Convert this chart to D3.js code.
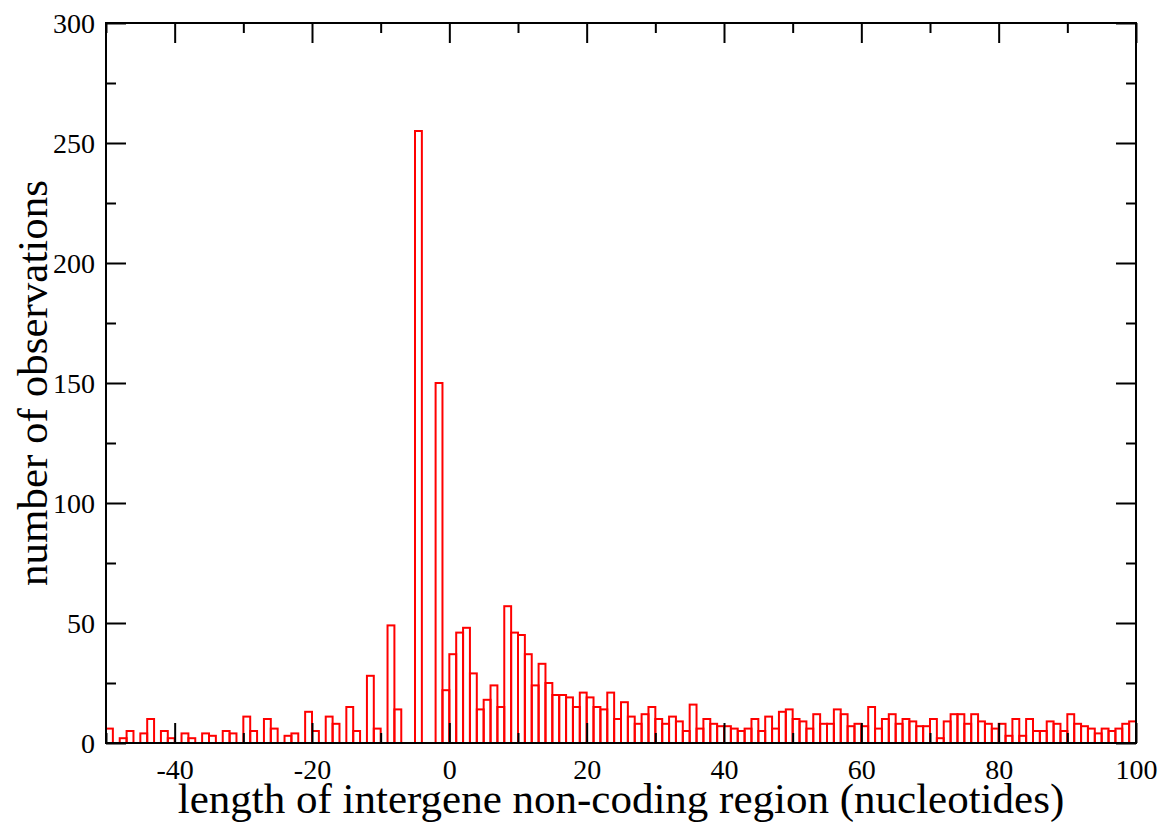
<!DOCTYPE html>
<html>
<head>
<meta charset="utf-8">
<script src="https://cdn.jsdelivr.net/npm/d3@7"></script>
<style>
  html, body { margin: 0; padding: 0; background: #fff; }
  svg { display: block; }
  text { font-family: "Liberation Serif", "Times New Roman", serif; fill: #000; }
</style>
</head>
<body>
<svg id="chart" width="1170" height="823"></svg>
<script>
// ---- data ----
const binStart = -50;          // left edge of first bin (nucleotides)
const binWidth = 1;            // bin width (nucleotides)
const counts = [
  6, 0, 2, 5, 0, 4, 10, 0, 5, 2,        // -50 .. -41
  0, 4, 2, 0, 4, 3, 0, 5, 4, 0,         // -40 .. -31
  11, 5, 0, 10, 6, 0, 3, 4, 0, 13,      // -30 .. -21
  5, 0, 11, 8, 0, 15, 5, 0, 28, 6,      // -20 .. -11
  0, 49, 14, 0, 0, 255, 0, 0, 150, 22,  // -10 .. -1
  37, 46, 48, 29, 14, 18, 24, 15, 57, 46, // 0 .. 9
  45, 37, 24, 33, 25, 20, 20, 19, 15, 21, // 10 .. 19
  19, 15, 14, 21, 10, 17, 11, 8, 12, 15,  // 20 .. 29
  10, 8, 11, 9, 5, 16, 6, 10, 8, 7,       // 30 .. 39
  7, 6, 5, 6, 10, 5, 11, 6, 13, 14,       // 40 .. 49
  10, 9, 6, 12, 8, 8, 14, 12, 7, 8,       // 50 .. 59
  7, 15, 6, 10, 12, 8, 10, 9, 7, 7,       // 60 .. 69
  10, 2, 9, 12, 12, 8, 12, 9, 8, 6,       // 70 .. 79
  8, 3, 10, 3, 10, 5, 5, 9, 8, 5,         // 80 .. 89
  12, 8, 7, 6, 4, 6, 5, 6, 8, 9           // 90 .. 99
];
const xDomain = [-50, 100];
const yDomain = [0, 300];
const xMajorTicks = [-40, -20, 0, 20, 40, 60, 80, 100];
const xMinorTicks = [-50, -30, -10, 10, 30, 50, 70, 90];
const yMajorTicks = [0, 50, 100, 150, 200, 250, 300];
const yMinorTicks = [25, 75, 125, 175, 225, 275];
const xLabelText = "length of intergene non-coding region (nucleotides)";
const yLabelText = "number of observations";

// ---- layout ----
const L = 106, R = 1136, T = 23, B = 743;
const svg = d3.select("#chart");
const x = d3.scaleLinear().domain(xDomain).range([L, R]);
const y = d3.scaleLinear().domain(yDomain).range([B, T]);

const bins = counts.map((c, i) => ({ x0: binStart + i * binWidth, x1: binStart + (i + 1) * binWidth, n: c }));

// bars (outlined)
svg.append("g")
  .selectAll("rect")
  .data(bins)
  .join("rect")
  .attr("x", d => x(d.x0))
  .attr("y", d => y(d.n))
  .attr("width", d => x(d.x1) - x(d.x0))
  .attr("height", d => y(0) - y(d.n))
  .attr("fill", "none")
  .attr("stroke", "#ff0000")
  .attr("stroke-width", 2);

// ticks (inward, all four sides)
const majorLen = 20, minorLen = 10;
function tickAxis(axisGen, transform, tickVals, len) {
  const g = svg.append("g").attr("transform", transform)
    .call(axisGen.tickValues(tickVals).tickSize(-len).tickFormat(""));
  g.select(".domain").remove();
  g.selectAll(".tick line").attr("stroke", "#000").attr("stroke-width", 2);
  return g;
}
tickAxis(d3.axisBottom(x), `translate(0,${B})`, xMajorTicks, majorLen);
tickAxis(d3.axisBottom(x), `translate(0,${B})`, xMinorTicks, minorLen);
tickAxis(d3.axisTop(x), `translate(0,${T})`, xMajorTicks, majorLen);
tickAxis(d3.axisTop(x), `translate(0,${T})`, xMinorTicks, minorLen);
tickAxis(d3.axisLeft(y), `translate(${L},0)`, yMajorTicks, majorLen);
tickAxis(d3.axisLeft(y), `translate(${L},0)`, yMinorTicks, minorLen);
tickAxis(d3.axisRight(y), `translate(${R},0)`, yMajorTicks, majorLen);
tickAxis(d3.axisRight(y), `translate(${R},0)`, yMinorTicks, minorLen);

// frame
svg.append("rect")
  .attr("x", L).attr("y", T).attr("width", R - L).attr("height", B - T)
  .attr("fill", "none").attr("stroke", "#000").attr("stroke-width", 2);

// tick labels
const xl = d3.axisBottom(x).tickValues(xMajorTicks).tickSize(0).tickPadding(0).tickFormat(d3.format("d"));
const gxl = svg.append("g").attr("transform", `translate(0,${B})`).call(xl);
gxl.select(".domain").remove();
gxl.selectAll(".tick text")
  .attr("y", 36).attr("dy", null)
  .style("font-family", '"Liberation Serif", serif')
  .style("font-size", "28px").attr("fill", "#000");
gxl.selectAll(".tick text").text(d => d < 0 ? "-" + Math.abs(d) : d);

const yl = d3.axisLeft(y).tickValues(yMajorTicks).tickSize(0).tickPadding(0).tickFormat(d3.format("d"));
const gyl = svg.append("g").attr("transform", `translate(${L},0)`).call(yl);
gyl.select(".domain").remove();
gyl.selectAll(".tick text")
  .attr("x", -11).attr("dy", "0.34em")
  .style("font-family", '"Liberation Serif", serif')
  .style("font-size", "28px").attr("fill", "#000");

// axis titles
svg.append("text")
  .attr("x", (L + R) / 2).attr("y", 813)
  .attr("text-anchor", "middle")
  .style("font-size", "43px")
  .text(xLabelText);
svg.append("text")
  .attr("transform", `translate(47,${(T + B) / 2}) rotate(-90)`)
  .attr("text-anchor", "middle")
  .style("font-size", "43px")
  .text(yLabelText);
</script>
</body>
</html>
